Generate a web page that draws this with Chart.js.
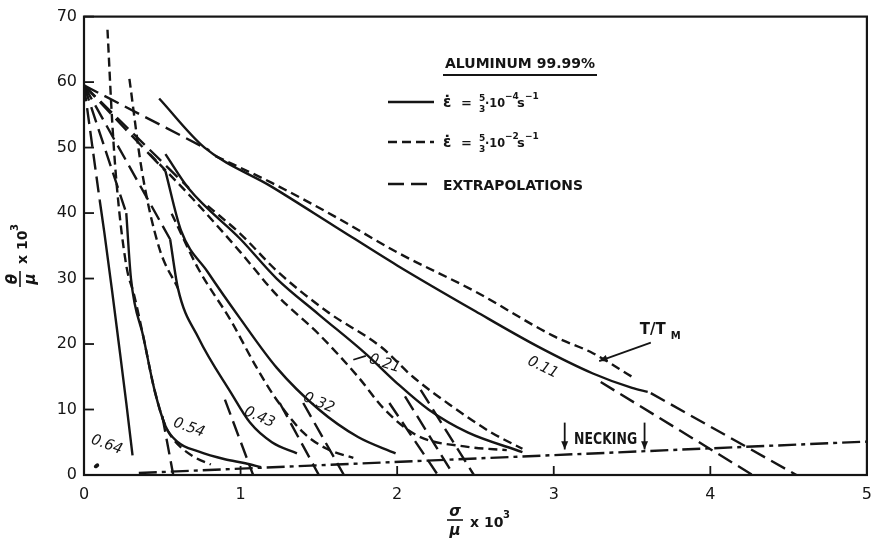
<!DOCTYPE html>
<html>
<head>
<meta charset="utf-8">
<script src="https://cdn.jsdelivr.net/npm/chart.js@4.4.1/dist/chart.umd.min.js"></script>
<style>
html,body{margin:0;padding:0;background:#fff;}
</style>
</head>
<body>
<canvas id="plot" width="882" height="544"></canvas>
<script>
// axis ticks
const xTicks = [0, 1, 2, 3, 4, 5];
const yTicks = [0, 10, 20, 30, 40, 50, 60, 70];

// T/Tm = 0.11
const solid011 = [[0.48,57.5],[0.77,50],[1.2,44],[1.6,38],[2.0,32],[2.5,25],[2.9,19.6],[3.25,15.5],[3.5,13.3],[3.6,12.7]];
const dash011 = [[0.84,48.7],[1.2,44.6],[1.6,39.5],[2.0,34],[2.5,28],[3.0,21.2],[3.25,18.6],[3.5,15.0]];
// T/Tm = 0.21
const solid021 = [[0.52,49],[0.67,43.7],[1.0,36],[1.23,30],[1.5,24.5],[1.8,18.5],[2.0,14],[2.2,10],[2.45,6.5],[2.8,3.5]];
const dash021 = [[0.79,41.1],[1.0,36.8],[1.23,31.2],[1.55,25],[1.9,19.5],[2.1,15],[2.35,10.5],[2.6,6.5],[2.8,4]];
// T/Tm = 0.32
const solid032 = [[0.52,46.4],[0.62,37.3],[0.79,31],[1.0,23.8],[1.23,16.4],[1.5,10],[1.75,5.8],[1.99,3.3]];
const dash032 = [[0.42,49],[0.69,42.3],[1.0,34],[1.23,27.5],[1.5,21.5],[1.75,15],[1.92,10],[2.13,6],[2.45,4.3],[2.7,3.8]];
// T/Tm = 0.43
const solid043 = [[0.55,36],[0.6,28.5],[0.73,21],[0.94,12.5],[1.06,8],[1.2,5],[1.36,3.3]];
const dash043 = [[0.56,39.9],[0.73,31.5],[0.94,23.5],[1.1,16.5],[1.23,11.5],[1.4,6.5],[1.55,4],[1.72,2.6]];
const dash043top = [[0.29,60.5],[0.37,46.4],[0.48,34.7],[0.6,28.5]];
// T/Tm = 0.54
const solid054 = [[0.27,40],[0.3,30],[0.38,21],[0.45,13],[0.52,7.5],[0.6,5],[0.73,3.6],[0.9,2.4],[1.03,1.8],[1.13,1.2]];
const dash054 = [[0.15,68],[0.18,54],[0.21,44],[0.27,32],[0.32,27.5],[0.38,21],[0.45,13],[0.52,7.5],[0.58,5.2],[0.7,2.8],[0.81,1.6]];
// T/Tm = 0.64
const solid064 = [[0.1,42],[0.13,37],[0.18,28],[0.22,20.5],[0.27,11],[0.31,3]];

// extrapolations (long dashes)
const extrapolations = [
  [[0,59.5],[0.8,49.6]], [[0,59.5],[0.67,43.8]], [[0,59.5],[0.52,46.4]],
  [[0,59.5],[0.55,36]], [[0,59.5],[0.27,40]], [[0,59.5],[0.1,42]],
  [[0.5,9],[0.57,0]], [[0.9,11.5],[1.08,0]], [[1.25,11],[1.5,0]],
  [[1.4,11],[1.66,0]], [[1.95,11],[2.26,0]], [[2.05,12],[2.36,0]],
  [[2.15,13],[2.49,0]], [[3.3,14.2],[4.27,0]], [[3.62,12.5],[4.55,0]]
];
// necking line (dash-dot)
const necking = [[0.35,0.3],[5,5.1]];

const ink = '#151515';
const pts = a => a.map(([x, y]) => ({x, y}));
const dashes = {solid: [], dash: [9, 5], long: [16, 7], dashdot: [18, 5, 4, 5]};
function ds(arr, kind) {
  return {
    data: pts(arr), showLine: true, pointRadius: 0, fill: false,
    borderColor: ink, borderWidth: 2.4, borderDash: dashes[kind],
    cubicInterpolationMode: (kind === 'solid' || kind === 'dash') ? 'monotone' : 'default',
    tension: 0
  };
}

const datasets = [
  ds(solid011,'solid'), ds(dash011,'dash'),
  ds(solid021,'solid'), ds(dash021,'dash'),
  ds(solid032,'solid'), ds(dash032,'dash'),
  ds(solid043,'solid'), ds(dash043,'dash'), ds(dash043top,'dash'),
  ds(solid054,'solid'), ds(dash054,'dash'),
  ds(solid064,'solid'),
  ...extrapolations.map(s => ds(s,'long')),
  ds(necking,'dashdot')
];

const tempLabels = [
  {t:'0.64', x:0.145, y:4.6, r:20}, {t:'0.54', x:0.67, y:7.2, r:20},
  {t:'0.43', x:1.12, y:8.8, r:24}, {t:'0.32', x:1.5, y:11.0, r:22},
  {t:'0.21', x:1.92, y:17.0, r:18}, {t:'0.11', x:2.93, y:16.4, r:26}
];

function arrow(c, x1, y1, x2, y2) {
  const a = Math.atan2(y2 - y1, x2 - x1);
  c.setLineDash([]);
  c.beginPath(); c.moveTo(x1, y1); c.lineTo(x2, y2); c.stroke();
  c.beginPath();
  c.moveTo(x2, y2);
  c.lineTo(x2 - 9 * Math.cos(a - 0.4), y2 - 9 * Math.sin(a - 0.4));
  c.lineTo(x2 - 9 * Math.cos(a + 0.4), y2 - 9 * Math.sin(a + 0.4));
  c.closePath(); c.fill();
}

function rateText(c, x, yc, exp) {
  c.textAlign = 'left'; c.textBaseline = 'alphabetic';
  c.font = 'bold 15px "DejaVu Sans"';
  c.fillText('\u03B5\u0307', x, yc + 5);
  c.font = 'bold 13px "DejaVu Sans"';
  c.fillText('=', x + 18, yc + 5);
  c.font = 'bold 9px "DejaVu Sans"';
  c.fillText('5', x + 36, yc - 1);
  c.fillText('3', x + 36, yc + 10);
  c.font = 'bold 13px "DejaVu Sans"';
  c.fillText('\u00B710', x + 42, yc + 5, 20);
  c.font = 'bold 9px "DejaVu Sans"';
  c.fillText('\u2212' + exp, x + 62, yc - 3);
  c.font = 'bold 13px "DejaVu Sans"';
  c.fillText('s', x + 74, yc + 5);
  c.font = 'bold 9px "DejaVu Sans"';
  c.fillText('\u22121', x + 82, yc - 3);
}

const deco = {
  id: 'deco',
  afterDraw(ch) {
    const c = ch.ctx, a = ch.chartArea, X = ch.scales.x, Y = ch.scales.y;
    const px = v => X.getPixelForValue(v), py = v => Y.getPixelForValue(v);
    c.save();
    c.strokeStyle = ink; c.fillStyle = ink;
    // frame
    c.lineWidth = 2.2;
    c.strokeRect(a.left, a.top, a.right - a.left, a.bottom - a.top);
    // inner ticks
    c.lineWidth = 1.8;
    xTicks.forEach(v => { c.beginPath(); c.moveTo(px(v), a.bottom); c.lineTo(px(v), a.bottom - 9); c.stroke(); });
    yTicks.forEach(v => { c.beginPath(); c.moveTo(a.left, py(v)); c.lineTo(a.left + 10, py(v)); c.stroke(); });

    // temperature labels
    c.font = 'italic 15px "DejaVu Sans"';
    c.textAlign = 'left'; c.textBaseline = 'middle';
    tempLabels.forEach(l => {
      c.save(); c.translate(px(l.x), py(l.y)); c.rotate(l.r * Math.PI / 180);
      c.fillText(l.t, -16, 0, 32); c.restore();
    });
    // leader for 0.21
    c.lineWidth = 1.8;
    c.beginPath(); c.moveTo(px(1.72), py(17.6)); c.lineTo(px(1.8), py(18.2)); c.stroke();
    // blob near 0.64
    c.beginPath(); c.ellipse(px(0.08), py(1.4), 3, 2, -0.6, 0, Math.PI * 2); c.fill();

    // T/TM
    c.font = 'bold 15px "DejaVu Sans"'; c.textBaseline = 'middle';
    c.fillText('T/T', px(3.55), py(22.1), 30);
    c.font = 'bold 10px "DejaVu Sans"';
    c.fillText('M', px(3.55) + 31, py(22.1) + 6);
    c.lineWidth = 1.8;
    arrow(c, px(3.62), py(20.2), px(3.29), py(17.4));

    // necking
    c.font = 'bold 15px "DejaVu Sans"';
    c.fillText('NECKING', px(3.13), py(5.4), 63);
    arrow(c, px(3.07), py(8), px(3.07), py(3.9));
    arrow(c, px(3.58), py(8), px(3.58), py(3.9));

    // legend
    c.font = 'bold 14px "DejaVu Sans"'; c.textBaseline = 'alphabetic';
    c.fillText('ALUMINUM 99.99%', 445, 68, 150);
    c.lineWidth = 2;
    c.beginPath(); c.moveTo(443, 75); c.lineTo(597, 75); c.stroke();
    const rows = [{y: 102, d: []}, {y: 142, d: [9, 5]}, {y: 184, d: [16, 7]}];
    rows.forEach(r => {
      c.setLineDash(r.d); c.lineWidth = 2.3;
      c.beginPath(); c.moveTo(388, r.y); c.lineTo(434, r.y); c.stroke();
    });
    c.setLineDash([]);
    rateText(c, 443, 102, '4');
    rateText(c, 443, 142, '2');
    c.font = 'bold 14px "DejaVu Sans"';
    c.fillText('EXTRAPOLATIONS', 443, 190, 140);

    // x title
    c.textAlign = 'center';
    c.font = 'italic bold 15px "DejaVu Sans"';
    c.fillText('\u03C3', 455, 516);
    c.fillText('\u03BC', 455, 535);
    c.lineWidth = 1.6;
    c.beginPath(); c.moveTo(447, 520); c.lineTo(463, 520); c.stroke();
    c.textAlign = 'left';
    c.font = 'bold 14px "DejaVu Sans"';
    c.fillText('x 10', 470, 527);
    c.font = 'bold 10px "DejaVu Sans"';
    c.fillText('3', 503, 518);

    // y title (rotated)
    c.translate(20, 257); c.rotate(-Math.PI / 2);
    c.textAlign = 'center';
    c.font = 'italic bold 15px "DejaVu Sans"';
    c.fillText('\u03B8', -22, -3);
    c.fillText('\u03BC', -22, 15);
    c.beginPath(); c.moveTo(-30, 0); c.lineTo(-14, 0); c.stroke();
    c.textAlign = 'left';
    c.font = 'bold 14px "DejaVu Sans"';
    c.fillText('x 10', -7, 7);
    c.font = 'bold 10px "DejaVu Sans"';
    c.fillText('3', 26, -2);
    c.restore();
  }
};

new Chart(document.getElementById('plot'), {
  type: 'scatter',
  data: {datasets},
  options: {
    responsive: false,
    animation: false,
    devicePixelRatio: 1,
    layout: {padding: {top: 15, right: 4, left: 0, bottom: 0}},
    plugins: {legend: {display: false}, tooltip: {enabled: false}},
    scales: {
      x: {
        type: 'linear', min: 0, max: 5,
        afterFit(s) { s.height = 69; },
        afterBuildTicks(s) { s.ticks = xTicks.map(v => ({value: v})); },
        ticks: {padding: 10, color: ink, font: {size: 16, family: 'DejaVu Sans'}},
        grid: {display: false, drawTicks: false},
        border: {display: false}
      },
      y: {
        type: 'linear', min: 0, max: 70,
        afterFit(s) { s.width = 84; },
        afterBuildTicks(s) { s.ticks = yTicks.map(v => ({value: v})); },
        ticks: {padding: 7, color: ink, font: {size: 16, family: 'DejaVu Sans'}},
        grid: {display: false, drawTicks: false},
        border: {display: false}
      }
    }
  },
  plugins: [deco]
});
</script>
</body>
</html>
